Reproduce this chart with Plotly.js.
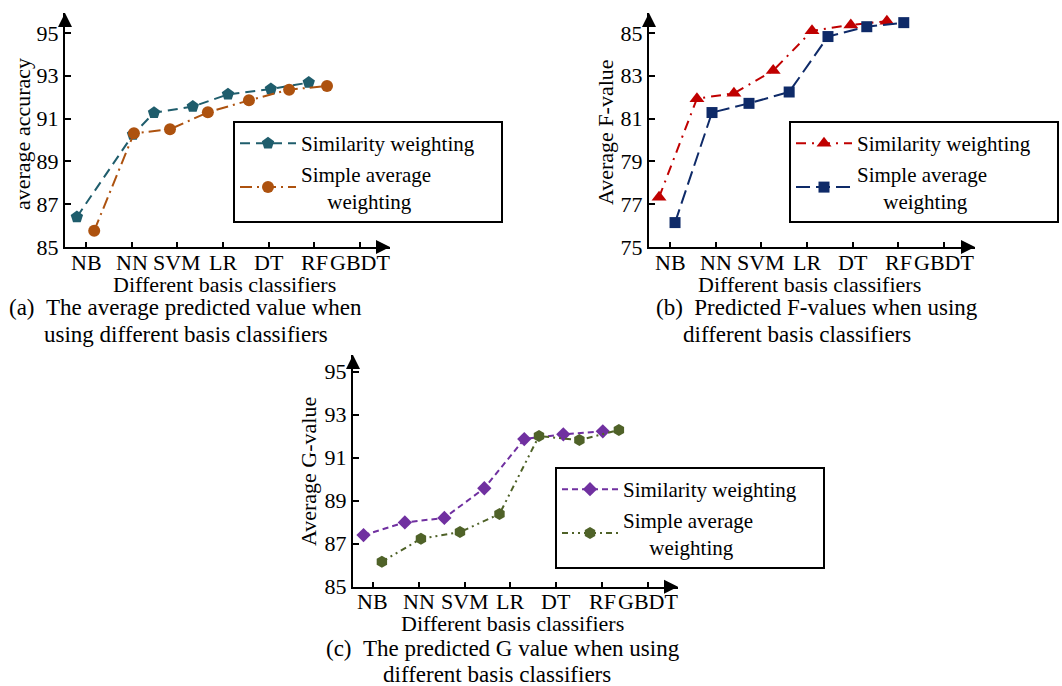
<!DOCTYPE html>
<html>
<head>
<meta charset="utf-8">
<script src="https://cdn.plot.ly/plotly-3.0.1.min.js"></script>
<style>html,body{margin:0;padding:0;background:#fff;}#chart{width:1062px;height:686px;}</style>
</head>
<body>
<div id="chart"></div>
<script>
// ---------- data ----------
var classifiers = ['NB', 'NN', 'SVM', 'LR', 'DT', 'RF', 'GBDT'];
var classifierPos = [1, 2, 3, 4, 5, 6, 7];

// (a) average accuracy
var accSimX = [0.80, 2.03, 2.49, 3.34, 4.11, 5.05, 5.88];
var accSimY = [86.40, 90.25, 91.27, 91.56, 92.13, 92.38, 92.68];
var accAvgX = [1.18, 2.05, 2.84, 3.67, 4.57, 5.45, 6.28];
var accAvgY = [85.76, 90.31, 90.50, 91.29, 91.85, 92.35, 92.52];

// (b) average F-value
var fSimX = [0.76, 1.59, 2.40, 3.26, 4.11, 4.96, 5.75];
var fSimY = [77.32, 81.93, 82.18, 83.24, 85.10, 85.37, 85.55];
var fAvgX = [1.11, 1.92, 2.73, 3.61, 4.46, 5.31, 6.12];
var fAvgY = [76.14, 81.28, 81.71, 82.24, 84.83, 85.29, 85.48];

// (c) average G-value
var gSimX = [0.80, 1.70, 2.56, 3.43, 4.30, 5.15, 6.01];
var gSimY = [87.40, 87.99, 88.20, 89.58, 91.87, 92.09, 92.23];
var gAvgX = [1.20, 2.05, 2.90, 3.76, 4.62, 5.50, 6.36];
var gAvgY = [86.16, 87.23, 87.54, 88.38, 92.01, 91.82, 92.29];

var accTicks = [85, 87, 89, 91, 93, 95];
var fTicks = [75, 77, 79, 81, 83, 85];
var gTicks = [85, 87, 89, 91, 93, 95];

var nameSim = 'Similarity weighting\u00a0\u00a0\u00a0\u00a0';
var nameAvg = 'Simple average<br>\u00a0\u00a0\u00a0\u00a0\u00a0weighting';

// ---------- styles ----------
var FONT = 'Liberation Serif';
var W = 1062, H = 686;
function px(x) { return x / W; }
function py(y) { return (H - y) / H; }

function trace(x, y, name, color, dash, symbol, size, xa, ya, leg) {
  return {
    x: x, y: y, name: name, type: 'scatter', mode: 'lines+markers',
    xaxis: xa, yaxis: ya, legend: leg,
    line: { color: color, width: 2, dash: dash },
    marker: { color: color, symbol: symbol, size: size }
  };
}

var data = [
  trace(accSimX, accSimY, nameSim, '#1f5d6c', '10px,6px', 'pentagon', 13, 'x', 'y', 'legend'),
  trace(accAvgX, accAvgY, nameAvg, '#ad520f', '12px,5px,2px,5px', 'circle', 12, 'x', 'y', 'legend'),
  trace(fSimX, fSimY, nameSim, '#c00000', '10px,6px,2px,6px', 'triangle-up', 13, 'x2', 'y2', 'legend2'),
  trace(fAvgX, fAvgY, nameAvg, '#0e2a68', '14px,6px', 'square', 11, 'x2', 'y2', 'legend2'),
  trace(gSimX, gSimY, nameSim, '#7030a0', '6px,4px', 'diamond', 11, 'x3', 'y3', 'legend3'),
  trace(gAvgX, gAvgY, nameAvg, '#4f6228', '6px,4px,2px,4px,2px,4px', 'hexagon', 12, 'x3', 'y3', 'legend3')
];

function xaxis(domain, range, anchor) {
  return {
    domain: domain, range: range, anchor: anchor,
    tickmode: 'array', tickvals: classifierPos, showticklabels: false,
    ticks: 'inside', ticklen: 5, tickwidth: 2, tickcolor: '#000',
    showline: true, linewidth: 2, linecolor: '#000', mirror: false,
    showgrid: false, zeroline: false, fixedrange: true
  };
}
function yaxis(domain, range, anchor, ticks) {
  return {
    domain: domain, range: range, anchor: anchor,
    tickmode: 'array', tickvals: ticks,
    ticks: 'inside', ticklen: 6, tickwidth: 2, tickcolor: '#000',
    showline: true, linewidth: 2, linecolor: '#000',
    showgrid: false, zeroline: false, fixedrange: true,
    tickfont: { family: FONT, size: 22, color: '#000' }
  };
}
function legend(x, y) {
  return {
    x: x, y: y, xanchor: 'left', yanchor: 'top', xref: 'paper', yref: 'paper',
    bgcolor: '#fff', bordercolor: '#000', borderwidth: 2,
    font: { family: FONT, size: 21, color: '#000' },
    tracegroupgap: 0, itemwidth: 56, valign: 'middle'
  };
}

var annotations = [];
function txt(text, x, y, xanchor, angle, size) {
  annotations.push({
    text: text, x: px(x), y: py(y), xref: 'paper', yref: 'paper',
    xanchor: xanchor || 'center', yanchor: 'middle', showarrow: false,
    textangle: angle || 0, borderpad: 0,
    font: { family: FONT, size: size || 23, color: '#000' }
  });
}
function tickLabels(xa, yPix) {
  for (var i = 0; i < classifiers.length; i++) {
    annotations.push({
      text: classifiers[i], x: classifierPos[i], xref: xa, y: py(yPix), yref: 'paper',
      xanchor: 'center', yanchor: 'middle', showarrow: false, borderpad: 0,
      font: { family: FONT, size: 22, color: '#000' }
    });
  }
}
function arrows(xa, ya, xr, yr) {
  annotations.push({ x: xr[1], y: yr[0], xref: xa, yref: ya, ax: -14, ay: 0,
    showarrow: true, arrowhead: 2, arrowsize: 1.4, arrowwidth: 2, arrowcolor: '#000', text: '' });
  annotations.push({ x: xr[0], y: yr[1], xref: xa, yref: ya, ax: 0, ay: 14,
    showarrow: true, arrowhead: 2, arrowsize: 1.4, arrowwidth: 2, arrowcolor: '#000', text: '' });
}

var rA = [0.54, 7.66], yA = [85, 95.93];
var rB = [0.54, 7.68], yB = [75, 85.93];
var rC = [0.571, 7.647], yC = [85, 95.78];

arrows('x', 'y', rA, yA);
arrows('x2', 'y2', rB, yB);
arrows('x3', 'y3', rC, yC);

tickLabels('x', 262);
tickLabels('x2', 262);
tickLabels('x3', 601);

// axis titles
txt('average accuracy', 22, 134, 'center', -90, 22);
txt('Average F-value', 605, 132, 'center', -90, 22);
txt('Average G-value', 308, 472, 'center', -90, 22);
txt('Different basis classifiers', 224, 284, 'center', 0, 22);
txt('Different basis classifiers', 809, 284, 'center', 0, 22);
txt('Different basis classifiers', 512, 623, 'center', 0, 22);
// captions
txt('(a)\u00a0\u00a0The average predicted value when', 8, 307, 'left');
txt('using different basis classifiers', 43, 334, 'left');
txt('(b)\u00a0\u00a0Predicted F-values when using', 655, 307, 'left');
txt('different basis classifiers', 682, 334, 'left');
txt('(c)\u00a0\u00a0The predicted G value when using', 325, 648, 'left');
txt('different basis classifiers', 382, 674, 'left');

var layout = {
  width: W, height: H,
  margin: { l: 0, r: 0, t: 0, b: 0 },
  paper_bgcolor: '#fff', plot_bgcolor: 'rgba(0,0,0,0)',
  font: { family: FONT, color: '#000' },
  showlegend: true,
  xaxis: xaxis([px(65), px(390)], rA, 'y'),
  yaxis: yaxis([py(247), py(13)], yA, 'x', accTicks),
  xaxis2: xaxis([px(649), px(975)], rB, 'y2'),
  yaxis2: yaxis([py(247), py(13)], yB, 'x2', fTicks),
  xaxis3: xaxis([px(353), px(678)], rC, 'y3'),
  yaxis3: yaxis([py(586.7), py(355)], yC, 'x3', gTicks),
  legend: legend(px(233), py(121)),
  legend2: legend(px(789), py(121)),
  legend3: legend(px(555), py(467)),
  annotations: annotations
};

Plotly.newPlot('chart', data, layout, { displayModeBar: false, staticPlot: true });
</script>
</body>
</html>
